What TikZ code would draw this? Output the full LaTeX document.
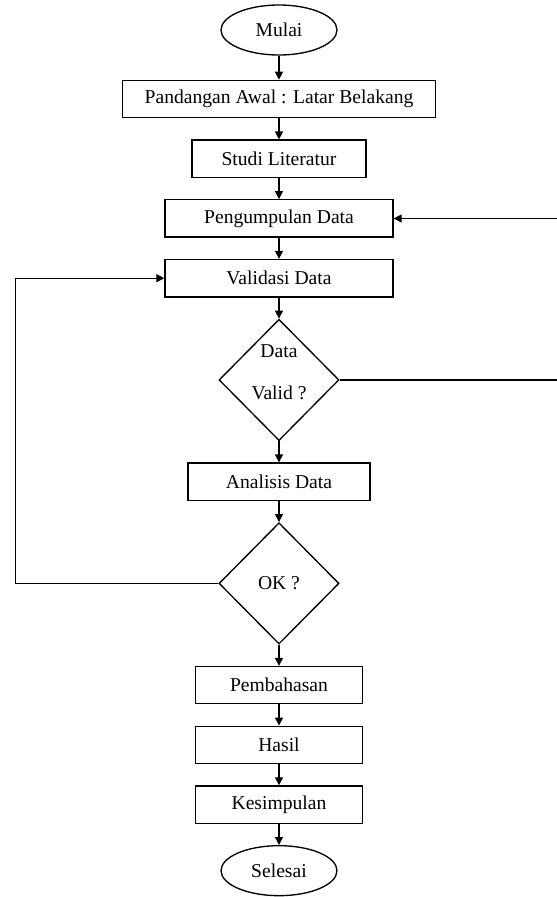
\documentclass[tikz,border=0pt]{standalone}
\usepackage{fontspec}
\setmainfont{Liberation Serif}
\usetikzlibrary{arrows.meta,positioning,shapes.geometric,calc}
\tikzset{
  proc/.style={rectangle, draw, line width=1pt, align=center, minimum height=28pt, inner sep=2pt},
  term/.style={ellipse, draw, line width=1pt, minimum width=87pt, minimum height=37.5pt, inner sep=1pt},
  decide/.style={diamond, draw, line width=1pt, align=center, minimum width=90pt, minimum height=91pt, inner sep=0pt},
  arrow/.style={-{Triangle[length=6pt,width=6pt]}, line width=1pt}
}

\begin{document}
\begin{tikzpicture}[node distance=15.8pt, font=\fontsize{14.7}{17.6}\selectfont]
  \node[term] (mulai) {Mulai};
  \useasboundingbox ($(mulai)+(-209.25pt,22.5pt)$) rectangle ($(mulai)+(208.5pt,-650.25pt)$);
  \node[proc, minimum width=234.75pt, below=18pt of mulai] (pandangan) {Pandangan Awal : Latar Belakang};
  \node[proc, minimum width=130.5pt, below=of pandangan] (studi) {Studi Literatur};
  \node[proc, minimum width=171pt, below=of studi] (kumpul) {Pengumpulan Data};
  \node[proc, minimum width=171pt, below=of kumpul] (validasi) {Validasi Data};
  \node[decide, inner sep=-8pt, below=of validasi] (cekdata) {Data\\[14pt]Valid ?\\[-5.6pt]\mbox{}};
  \node[proc, minimum width=136.5pt, below=of cekdata] (analisis) {Analisis Data};
  \node[decide, below=of analisis] (cekok) {OK ?};
  \node[proc, minimum width=125.25pt, below=of cekok] (bahas) {Pembahasan};
  \node[proc, minimum width=125.25pt, below=of bahas] (hasil) {Hasil};
  \node[proc, minimum width=125.25pt, below=of hasil] (simpul) {Kesimpulan};
  \node[term, below=of simpul] (selesai) {Selesai};
  \coordinate[right=164pt of cekdata.east] (redge);
  \coordinate[left=152.25pt of cekok.west] (ledge);
  \draw[arrow] (mulai) -- (pandangan);
  \draw[arrow] (pandangan) -- (studi);
  \draw[arrow] (studi) -- (kumpul);
  \draw[arrow] (kumpul) -- (validasi);
  \draw[arrow] (validasi) -- (cekdata);
  \draw[arrow] (cekdata) -- (analisis);
  \draw[arrow] (analisis) -- (cekok);
  \draw[arrow] (cekok) -- (bahas);
  \draw[arrow] (bahas) -- (hasil);
  \draw[arrow] (hasil) -- (simpul);
  \draw[arrow] (simpul) -- (selesai);
  \draw[arrow] (cekdata.east) -- (redge) |- (kumpul.east);
  \draw[arrow] (cekok.west) -- (ledge) |- (validasi.west);
\end{tikzpicture}
\end{document}
